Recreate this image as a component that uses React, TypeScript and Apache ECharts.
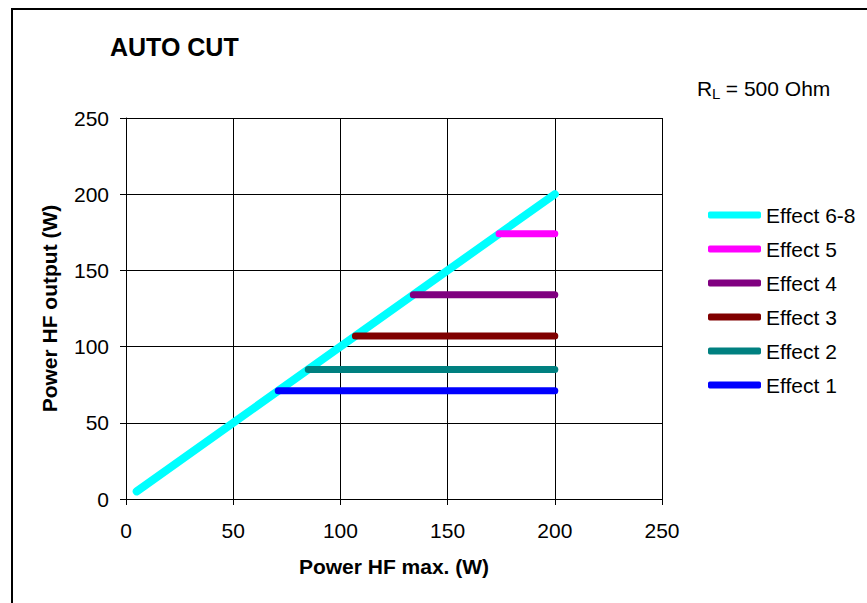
import React, { useEffect, useRef } from "react";
import * as echarts from "echarts";

const seriesNames = ["Effect 6-8", "Effect 5", "Effect 4", "Effect 3", "Effect 2", "Effect 1"];
const seriesColors = ["#00FFFF", "#FF00FF", "#800080", "#800000", "#008080", "#0000FF"];
const effect68: number[][] = [[5, 5], [200, 200]];
const effect5: number[][] = [[174, 174], [200, 174]];
const effect4: number[][] = [[134, 134], [200, 134]];
const effect3: number[][] = [[107, 107], [200, 107]];
const effect2: number[][] = [[85, 85], [200, 85]];
const effect1: number[][] = [[71, 71], [200, 71]];
const seriesData = [effect68, effect5, effect4, effect3, effect2, effect1];
const axisMin = 0;
const axisMax = 250;
const axisStep = 50;

const FONT = "'Liberation Sans', Arial, sans-serif";

export default function App() {
  const ref = useRef<HTMLDivElement>(null);
  useEffect(() => {
    if (!ref.current) return;
    const chart = echarts.init(ref.current, null, { renderer: "svg" });
    const axisCommon = {
      type: "value" as const,
      min: axisMin,
      max: axisMax,
      interval: axisStep,
      axisLine: { show: true, lineStyle: { color: "#000", width: 1 } },
      axisTick: { show: true, inside: false, length: 6, lineStyle: { color: "#000" } },
      splitLine: { show: true, lineStyle: { color: "#000", width: 1 } },
      axisLabel: { color: "#000", fontSize: 21, fontFamily: FONT },
      nameLocation: "middle" as const,
      nameTextStyle: { color: "#000", fontSize: 21, fontWeight: "bold" as const, fontFamily: FONT },
    };
    chart.setOption({
      animation: false,
      backgroundColor: "#fff",
      textStyle: { fontFamily: FONT },
      title: {
        text: "AUTO CUT",
        left: 110,
        top: 34,
        padding: 0,
        textStyle: { fontSize: 25, fontWeight: "bold", color: "#000", fontFamily: FONT },
      },
      grid: { left: 126, top: 118, width: 536, height: 381, containLabel: false },
      xAxis: {
        ...axisCommon,
        name: "Power HF max. (W)",
        nameGap: 57,
        axisLabel: { ...axisCommon.axisLabel, margin: 21 },
      },
      yAxis: {
        ...axisCommon,
        name: "Power HF output (W)",
        nameGap: 66,
        nameRotate: 90,
        axisLabel: { ...axisCommon.axisLabel, margin: 17 },
      },
      legend: {
        orient: "vertical",
        left: 708,
        top: 198,
        itemWidth: 53,
        itemHeight: 7,
        itemGap: 0,
        padding: 0,
        selectedMode: false,
        icon: "roundRect",
        textStyle: { fontSize: 21, color: "#000", fontFamily: FONT, lineHeight: 34 },
        data: seriesNames,
      },
      graphic: [
        { type: "line", shape: { x1: 12, y1: 9, x2: 867, y2: 9 }, style: { stroke: "#000", lineWidth: 2 } },
        { type: "line", shape: { x1: 12, y1: 8, x2: 12, y2: 603 }, style: { stroke: "#000", lineWidth: 2 } },
        {
          type: "text",
          x: 697,
          y: 88,
          style: { text: "R", fontSize: 21, fontFamily: FONT, fill: "#000", verticalAlign: "middle" },
        },
        {
          type: "text",
          x: 712,
          y: 93,
          style: { text: "L", fontSize: 15, fontFamily: FONT, fill: "#000", verticalAlign: "middle" },
        },
        {
          type: "text",
          x: 720,
          y: 88,
          style: { text: " = 500 Ohm", fontSize: 21, fontFamily: FONT, fill: "#000", verticalAlign: "middle" },
        },
      ],
      series: seriesNames.map((name, i) => ({
        name,
        type: "line",
        data: seriesData[i],
        showSymbol: false,
        symbol: "none",
        color: seriesColors[i],
        lineStyle: { color: seriesColors[i], width: i === 0 ? 8 : 7, cap: "round" },
        itemStyle: { color: seriesColors[i] },
        z: i === 0 ? 2 : 3,
      })),
    });
    return () => chart.dispose();
  }, []);
  return (
    <div
      ref={ref}
      style={{ position: "fixed", left: 0, top: 0, width: 867, height: 603 }}
    />
  );
}
